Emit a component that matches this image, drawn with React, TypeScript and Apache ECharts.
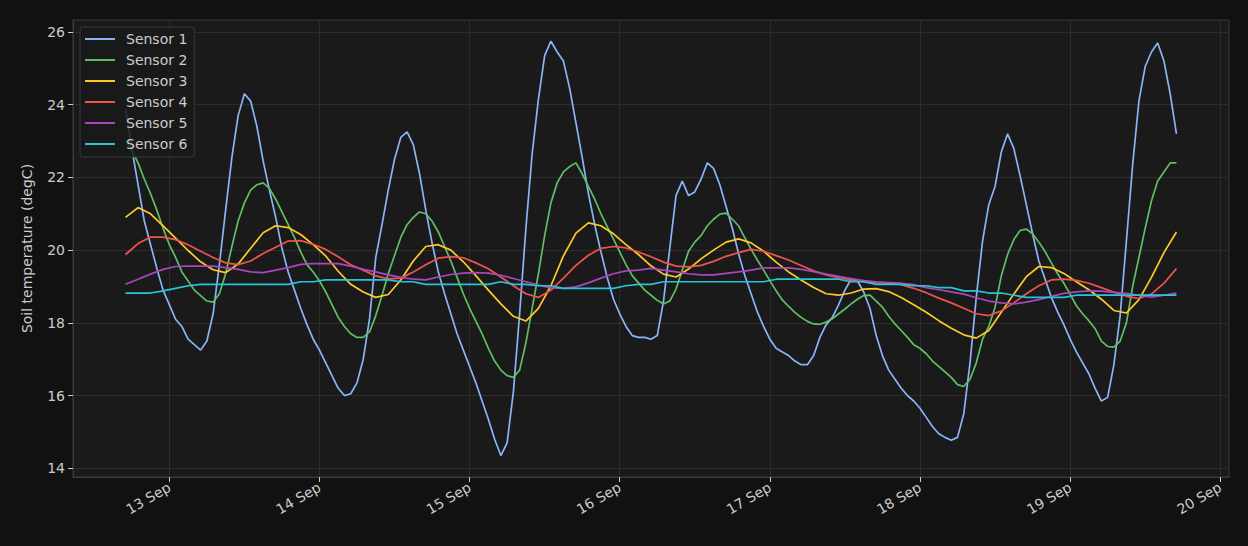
import { useEffect, useRef } from "react";
import * as echarts from "echarts";

const sensorNames = ["Sensor 1", "Sensor 2", "Sensor 3", "Sensor 4", "Sensor 5", "Sensor 6"];
const sensorColors = ["#8ab4f8", "#5fbf63", "#ffca28", "#ef5350", "#ab47bc", "#26c6da"];

// fast sensors: read hourly, 12 Sep 17:00 .. 19 Sep 17:00
const sensor1 = [
  23.9, 22.8, 21.8, 20.8, 20.15, 19.5, 18.9, 18.5, 18.1, 17.9, 17.55, 17.4,
  17.25, 17.5, 18.25, 19.6, 21.1, 22.55, 23.7, 24.3, 24.1, 23.4, 22.45, 21.65,
  20.9, 20.05, 19.4, 18.9, 18.4, 17.95, 17.55, 17.25, 16.9, 16.55, 16.2, 16.0,
  16.05, 16.35, 17.0, 18.1, 19.8, 20.7, 21.65, 22.5, 23.1, 23.25, 22.9, 22.1,
  21.1, 20.2, 19.4, 18.8, 18.25, 17.7, 17.25, 16.8, 16.35, 15.85, 15.35, 14.8,
  14.35, 14.7, 16.1, 18.25, 20.6, 22.65, 24.15, 25.35, 25.75, 25.45, 25.2, 24.45,
  23.5, 22.55, 21.55, 20.7, 19.95, 19.25, 18.65, 18.25, 17.9, 17.65, 17.6, 17.6,
  17.55, 17.65, 18.6, 20.05, 21.5, 21.9, 21.5, 21.6, 21.95, 22.4, 22.25, 21.8,
  21.2, 20.6, 19.9, 19.3, 18.8, 18.3, 17.9, 17.55, 17.3, 17.2, 17.1, 16.95,
  16.85, 16.85, 17.1, 17.6, 17.95, 18.15, 18.5, 18.9, 19.2, 19.15, 18.85, 18.4,
  17.65, 17.1, 16.7, 16.45, 16.2, 16.0, 15.85, 15.65, 15.4, 15.15, 14.95, 14.85,
  14.77, 14.85, 15.5, 16.9, 18.7, 20.25, 21.25, 21.75, 22.7, 23.2, 22.8, 22.05,
  21.25, 20.45, 19.7, 19.2, 18.7, 18.3, 17.95, 17.55, 17.2, 16.9, 16.6, 16.2,
  15.85, 15.95, 16.85, 18.2, 20.25, 22.35, 24.1, 25.05, 25.45, 25.7, 25.2, 24.3, 23.2,
];
const sensor2 = [
  23.0, 22.75, 22.4, 21.95, 21.55, 21.1, 20.6, 20.15, 19.8, 19.4, 19.15, 18.9,
  18.75, 18.6, 18.57, 18.8, 19.35, 20.1, 20.8, 21.3, 21.65, 21.8, 21.85, 21.7,
  21.4, 21.05, 20.7, 20.35, 19.95, 19.6, 19.4, 19.15, 18.85, 18.5, 18.15, 17.9,
  17.7, 17.6, 17.6, 17.75, 18.2, 18.75, 19.35, 19.85, 20.35, 20.7, 20.9, 21.05,
  21.0, 20.8, 20.5, 20.1, 19.7, 19.25, 18.8, 18.4, 18.05, 17.7, 17.3, 16.95,
  16.7, 16.55, 16.5, 16.7, 17.45, 18.4, 19.35, 20.4, 21.3, 21.85, 22.15, 22.3,
  22.4, 22.1, 21.75, 21.4, 21.0, 20.65, 20.3, 19.95, 19.6, 19.3, 19.1, 18.9,
  18.76, 18.62, 18.52, 18.6, 18.93, 19.45, 19.97, 20.22, 20.4, 20.67, 20.85, 20.99,
  21.02, 20.85, 20.67, 20.34, 20.02, 19.73, 19.45, 19.16, 18.88, 18.63, 18.45, 18.29,
  18.15, 18.04, 17.97, 17.96, 18.02, 18.11, 18.25, 18.38, 18.52, 18.65, 18.75, 18.76,
  18.6, 18.43, 18.18, 17.97, 17.79, 17.6, 17.4, 17.3, 17.15, 16.95, 16.8, 16.65,
  16.5, 16.3, 16.25, 16.45, 16.9, 17.55, 17.9, 18.43, 19.29, 19.88, 20.29, 20.54,
  20.58, 20.45, 20.22, 19.96, 19.65, 19.35, 19.09, 18.79, 18.47, 18.25, 18.06, 17.84,
  17.5, 17.35, 17.33, 17.5, 18.0, 19.0, 19.8, 20.6, 21.35, 21.9, 22.15, 22.4, 22.4,
];

// slow sensors: read every 2 hours over the same span
const sensor3 = [
  20.9, 21.17, 21.0, 20.67, 20.33, 19.99, 19.68, 19.46, 19.38, 19.62, 20.05, 20.48, 20.67, 20.62, 20.43,
  20.15, 19.84, 19.42, 19.06, 18.85, 18.7, 18.78, 19.18, 19.7, 20.1, 20.15, 20.0, 19.68, 19.3, 18.9,
  18.52, 18.18, 18.05, 18.4, 19.02, 19.84, 20.47, 20.75, 20.67, 20.45, 20.15, 19.88, 19.57, 19.34, 19.26,
  19.48, 19.76, 20.0, 20.22, 20.31, 20.2, 19.97, 19.67, 19.4, 19.18, 18.97, 18.8, 18.76, 18.82, 18.93,
  18.94, 18.86, 18.7, 18.5, 18.29, 18.06, 17.85, 17.67, 17.58, 17.79, 18.29, 18.79, 19.27, 19.55, 19.52,
  19.36, 19.13, 18.91, 18.65, 18.34, 18.27, 18.64, 19.25, 19.93, 20.5,
];
const sensor4 = [
  19.88, 20.18, 20.36, 20.36, 20.29, 20.15, 19.97, 19.8, 19.65, 19.6, 19.7, 19.91, 20.08, 20.25, 20.26,
  20.16, 20.02, 19.82, 19.6, 19.45, 19.29, 19.21, 19.23, 19.4, 19.6, 19.78, 19.82, 19.79, 19.65, 19.49,
  19.26, 19.02, 18.8, 18.7, 18.9, 19.23, 19.58, 19.86, 20.05, 20.1, 20.06, 19.95, 19.82, 19.67, 19.56,
  19.54, 19.58, 19.69, 19.83, 19.93, 20.02, 19.97, 19.85, 19.73, 19.58, 19.43, 19.32, 19.24, 19.18, 19.13,
  19.1, 19.09, 19.05, 18.95, 18.83, 18.68, 18.55, 18.4, 18.25, 18.2, 18.33, 18.55, 18.8, 19.02, 19.18,
  19.2, 19.17, 19.09, 18.97, 18.84, 18.73, 18.67, 18.79, 19.09, 19.49,
];
const sensor5 = [
  19.06, 19.2, 19.34, 19.47, 19.55, 19.56, 19.56, 19.56, 19.52, 19.47, 19.4, 19.38, 19.45, 19.52, 19.61,
  19.63, 19.63, 19.63, 19.56, 19.47, 19.4, 19.32, 19.25, 19.2, 19.18, 19.26, 19.33, 19.37, 19.38, 19.37,
  19.31, 19.22, 19.13, 19.04, 18.96, 18.95, 18.99, 19.1, 19.23, 19.35, 19.43, 19.45, 19.5, 19.45, 19.4,
  19.35, 19.32, 19.32, 19.36, 19.4, 19.45, 19.51, 19.51, 19.51, 19.47, 19.41, 19.34, 19.28, 19.22, 19.16,
  19.13, 19.11, 19.09, 19.05, 18.97, 18.91, 18.85, 18.79, 18.69, 18.6, 18.55, 18.52, 18.57, 18.64, 18.73,
  18.81, 18.85, 18.88, 18.87, 18.84, 18.81, 18.76, 18.71, 18.76, 18.82,
];
const sensor6 = [
  18.82, 18.82, 18.82, 18.88, 18.95, 19.02, 19.06, 19.06, 19.06, 19.06, 19.06, 19.06, 19.06, 19.06, 19.13,
  19.13, 19.18, 19.18, 19.18, 19.18, 19.18, 19.18, 19.13, 19.13, 19.06, 19.06, 19.06, 19.06, 19.06, 19.06,
  19.13, 19.06, 19.06, 19.02, 19.02, 18.95, 18.95, 18.95, 18.95, 18.95, 19.02, 19.06, 19.06, 19.13, 19.13,
  19.13, 19.13, 19.13, 19.13, 19.13, 19.13, 19.13, 19.2, 19.2, 19.2, 19.2, 19.2, 19.2, 19.13, 19.13,
  19.06, 19.06, 19.06, 19.02, 19.02, 18.97, 18.97, 18.88, 18.88, 18.82, 18.82, 18.76, 18.7, 18.7, 18.7,
  18.7, 18.76, 18.76, 18.76, 18.76, 18.76, 18.76, 18.76, 18.76, 18.76,
];
const sensorValues = [sensor1, sensor2, sensor3, sensor4, sensor5, sensor6];

const START = new Date(2024, 8, 12, 17, 0).getTime();
const HOUR = 3600 * 1000;
const hourlyTimes = sensor1.map((_, i) => START + i * HOUR);
const twoHourlyTimes = sensor3.map((_, i) => START + i * 2 * HOUR);
const sensorTimes = [hourlyTimes, hourlyTimes, twoHourlyTimes, twoHourlyTimes, twoHourlyTimes, twoHourlyTimes];

const dayTicks = [13, 14, 15, 16, 17, 18, 19, 20].map((d) => new Date(2024, 8, d).getTime());
const yTicks = [14, 16, 18, 20, 22, 24, 26];

const TEXT = "#cccccc";
const FONT = "DejaVu Sans";

const App = () => {
  const chartRef = useRef<HTMLDivElement>(null);

  useEffect(() => {
    document.body.style.margin = "0";
    document.body.style.background = "#111111";
    const chart = echarts.init(chartRef.current, null, { renderer: "svg" });

    chart.setOption({
      animation: false,
      backgroundColor: "#111111",
      textStyle: { fontFamily: FONT },
      grid: {
        left: 73,
        right: 19,
        top: 20,
        bottom: 69,
        show: true,
        backgroundColor: "#1a1a1a",
        borderColor: "#3a3a3a",
        borderWidth: 1,
      },
      legend: {
        orient: "vertical",
        left: 80,
        top: 27,
        padding: [5, 7, 6, 5],
        itemGap: 7,
        itemWidth: 30,
        itemHeight: 2,
        icon: "rect",
        backgroundColor: "rgba(26,26,26,0.85)",
        borderColor: "#383838",
        borderWidth: 1,
        borderRadius: 3,
        itemStyle: { borderWidth: 0 },
        textStyle: {
          color: TEXT,
          fontSize: 14,
          fontFamily: FONT,
          lineHeight: 14,
          padding: [0, 0, 0, 6],
        },
        data: sensorNames,
      },
      // timestamps on a value axis so that the day ticks can be given exactly
      xAxis: {
        type: "value",
        min: new Date(2024, 8, 12, 8, 36).getTime(),
        max: new Date(2024, 8, 20, 1, 24).getTime(),
        axisLine: { show: true, lineStyle: { color: "#3a3a3a" } },
        axisTick: {
          show: true,
          length: 5,
          lineStyle: { color: TEXT },
          customValues: dayTicks,
        },
        splitLine: { show: true, lineStyle: { color: "#2c2c2c", width: 1 } },
        axisLabel: {
          customValues: dayTicks,
          rotate: 30,
          margin: 9,
          color: TEXT,
          fontSize: 14,
          fontFamily: FONT,
          formatter: (v: number) => `${new Date(v).getDate()} Sep`,
        },
      },
      yAxis: {
        type: "value",
        min: 13.76,
        max: 26.33,
        name: "Soil temperature (degC)",
        nameLocation: "middle",
        nameGap: 39,
        nameTextStyle: { color: TEXT, fontSize: 14, fontFamily: FONT },
        axisLine: { show: true, lineStyle: { color: "#3a3a3a" } },
        axisTick: {
          show: true,
          length: 5,
          lineStyle: { color: TEXT },
          customValues: yTicks,
        },
        splitLine: { show: true, lineStyle: { color: "#2c2c2c", width: 1 } },
        axisLabel: {
          customValues: yTicks,
          margin: 8,
          color: TEXT,
          fontSize: 14,
          fontFamily: FONT,
        },
      },
      series: sensorNames.map((name, k) => ({
        name,
        type: "line",
        symbol: "none",
        color: sensorColors[k],
        lineStyle: { color: sensorColors[k], width: 1.7 },
        data: sensorValues[k].map((v, i) => [sensorTimes[k][i], v]),
      })),
    });

    return () => {
      chart.dispose();
    };
  }, []);

  return <div ref={chartRef} style={{ width: 1248, height: 546 }} />;
};

export default App;
